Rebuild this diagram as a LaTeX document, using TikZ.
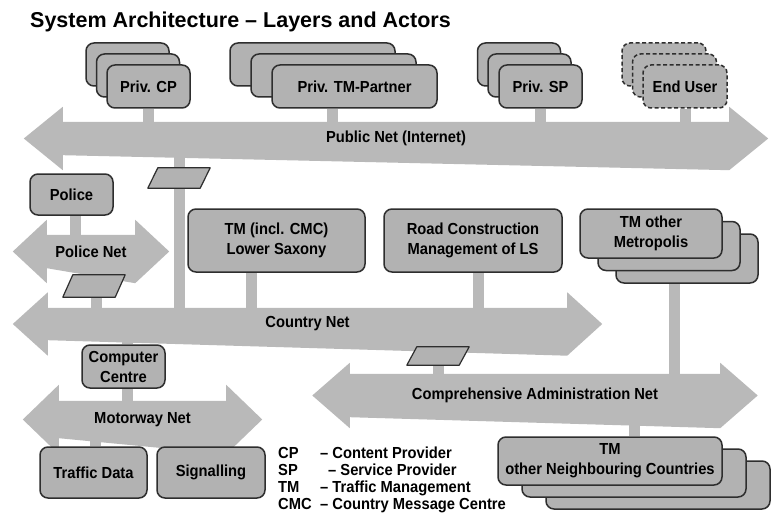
\documentclass[tikz,border=0pt]{standalone}
\usepackage{fontspec}
\setmainfont{Liberation Sans}
\newfontfamily\narrowsans{Liberation Sans}[FakeStretch=0.92]
\usetikzlibrary{calc,backgrounds}

\definecolor{boxgray}{HTML}{B2B2B2}
\definecolor{netgray}{HTML}{B9B9B9}
\definecolor{edgegray}{HTML}{2E2E2E}

\pgfdeclarelayer{backdrop}
\pgfsetlayers{backdrop,background,main}

\tikzset{
  lbl/.style={font=\narrowsans\bfseries\fontsize{16}{20}\selectfont, align=center, text=black},
  actor/.style={lbl, draw=edgegray, line width=1.5pt, fill=boxgray, rounded corners=8pt, inner sep=0pt},
  dashedactor/.style={actor, dash pattern=on 4pt off 2.5pt},
  netbody/.style={lbl, inner sep=0pt},
  conn/.style={draw=netgray, line width=11pt},
  gateway/.style={inner sep=0pt, minimum width=52pt, minimum height=20pt},
  gatewayshape/.style={draw=edgegray, line width=1.2pt, fill=boxgray, line join=round},
  legend/.style={lbl, anchor=base west, inner sep=0pt, align=left},
}

% filled double-headed arrow around a net's body node:
% #1 body node, #2 head overhang, #3 head length
\newcommand\netarrow[3]{%
  \begin{pgfonlayer}{background}
    \fill[netgray] (#1.north west) -- (#1.north east) -- ([yshift=#2]#1.north east)
      -- ([xshift=#3]#1.east) -- ([yshift=-#2]#1.south east) -- (#1.south west)
      -- ([yshift=-#2]#1.south west) -- ([xshift=-#3]#1.west)
      -- ([yshift=#2]#1.north west) -- cycle;
  \end{pgfonlayer}}

% slanted gateway symbol drawn over its (invisible) node
\newcommand\gatewaybox[1]{%
  \filldraw[gatewayshape] ([xshift=5pt]#1.north west) -- ([xshift=5pt]#1.north east)
    -- ([xshift=-5pt]#1.south east) -- ([xshift=-5pt]#1.south west) -- cycle;}

\begin{document}
\begin{tikzpicture}[x=1pt,y=-1pt]
\begin{pgfonlayer}{backdrop}
  \fill[white] (0,0) rectangle (771,524);
\end{pgfonlayer}
\useasboundingbox (0,0) rectangle (771,524);

% title
\node[anchor=base west, inner sep=0pt, font=\bfseries\fontsize{21.5}{24}\selectfont] (title)
  at (30,28) {System Architecture – Layers and Actors};

% nets
\node[netbody, minimum width=666pt, minimum height=33pt] (pub) at (396,138.5) {Public Net (Internet)};
\node[netbody, minimum width=88pt, minimum height=33pt] (policenet) at (91,251.5) {Police Net};
\node[netbody, minimum width=519pt, minimum height=32pt] (country) at (307.5,324) {Country Net};
\node[netbody, minimum width=370pt, minimum height=43pt] (comp) at (535,395.5) {Comprehensive Administration Net};
\node[netbody, minimum width=167pt, minimum height=37pt] (motor) at (142.5,419.5) {Motorway Net};
\netarrow{pub}{15pt}{39pt}
\netarrow{policenet}{15pt}{34pt}
\netarrow{country}{15.5pt}{35pt}
\netarrow{comp}{11pt}{37.5pt}
\netarrow{motor}{16pt}{36pt}

% private actors on the public net
\node[actor, minimum width=83pt, minimum height=43pt] (cp3) at (127.5,64.5) {};
\node[actor, minimum width=83pt, minimum height=43pt] (cp2) at (138,75.5) {};
\node[actor, minimum width=83pt, minimum height=43pt] (cp) at (148.5,86.5) {Priv. CP};

\node[actor, minimum width=165pt, minimum height=43pt] (tmp3) at (312.5,64.5) {};
\node[actor, minimum width=165pt, minimum height=43pt] (tmp2) at (333.5,75.5) {};
\node[actor, minimum width=165pt, minimum height=43pt] (tmp) at (354.5,86.5) {Priv. TM-Partner};

\node[actor, minimum width=83pt, minimum height=43pt] (sp3) at (519,64.5) {};
\node[actor, minimum width=83pt, minimum height=43pt] (sp2) at (529.5,75.5) {};
\node[actor, minimum width=83pt, minimum height=43pt] (sp) at (540.5,86.5) {Priv. SP};

\node[dashedactor, minimum width=84pt, minimum height=43pt] (eu3) at (664,64.5) {};
\node[dashedactor, minimum width=84pt, minimum height=43pt] (eu2) at (674.5,75.5) {};
\node[dashedactor, minimum width=84pt, minimum height=43pt] (eu) at (685,86.5) {End User};

% public authorities
\node[actor, minimum width=83pt, minimum height=41pt] (police) at (71.5,194.5) {Police};
\node[actor, minimum width=177pt, minimum height=63pt] (tmls) at (276.5,240.5) {TM (incl. CMC)\\Lower Saxony};
\node[actor, minimum width=178pt, minimum height=63pt] (rc) at (473,240.5) {Road Construction\\Management of LS};

\node[actor, minimum width=142pt, minimum height=49pt] (tmo3) at (687,258.5) {};
\node[actor, minimum width=142pt, minimum height=49pt] (tmo2) at (669,246) {};
\node[actor, minimum width=142pt, minimum height=49pt] (tmo) at (651,233.5) {TM other\\Metropolis};

\node[actor, minimum width=83pt, minimum height=43pt] (cc) at (123.5,366.5) {Computer\\Centre};

\node[actor, minimum width=224pt, minimum height=48pt] (tnc3) at (658,485) {};
\node[actor, minimum width=224pt, minimum height=48pt] (tnc2) at (634,473) {};
\node[actor, minimum width=224pt, minimum height=48pt] (tnc) at (610,461) {TM\\other Neighbouring Countries};

\node[actor, minimum width=107pt, minimum height=51pt] (td) at (93.5,472.5) {Traffic Data};
\node[actor, minimum width=108pt, minimum height=51pt] (sig) at (211,472.5) {Signalling};

% gateways between nets
\node[gateway] (gw1) at (179,178) {};
\node[gateway, minimum height=22pt] (gw2) at (94,286) {};
\node[gateway, minimum height=18pt] (gw3) at (438,356) {};
\gatewaybox{gw1}
\gatewaybox{gw2}
\gatewaybox{gw3}

% links
\begin{pgfonlayer}{background}
  \draw[conn] (cp.south) -- (cp.south |- pub.center);
  \draw[conn] ($(tmp.south west)!0.37!(tmp.south east)$) coordinate (tmpx) -- (tmpx |- pub.center);
  \draw[conn] (sp.south) -- (sp.south |- pub.center);
  \draw[conn] (eu.south) -- (eu.south |- pub.center);
  \draw[conn] (gw1 |- pub.center) -- (gw1 |- country.center);
  \draw[conn] ($(police.south west)!0.55!(police.south east)$) coordinate (polx) -- (polx |- policenet.center);
  \draw[conn] ([xshift=2pt]gw2.center |- policenet.center) -- ([xshift=2pt]gw2.center |- country.center);
  \draw[conn] ($(tmls.south west)!0.36!(tmls.south east)$) coordinate (tmlsx) -- (tmlsx |- country.center);
  \draw[conn] ($(rc.south west)!0.53!(rc.south east)$) coordinate (rcx) -- (rcx |- country.center);
  \draw[conn] ($(tmo3.south west)!0.41!(tmo3.south east)$) coordinate (tmox) -- (tmox |- comp.center);
  \draw[conn] (gw3 |- country.center) -- (gw3 |- comp.center);
  \draw[conn] ($(cc.north west)!0.55!(cc.north east)$) coordinate (ccx) -- (ccx |- country.center);
  \draw[conn] ($(cc.south west)!0.55!(cc.south east)$) coordinate (ccy) -- (ccy |- motor.center);
  \draw[conn] ($(td.north west)!0.52!(td.north east)$) coordinate (tdx) -- (tdx |- motor.center);
  \draw[conn] (sig.north) -- (sig.north |- motor.center);
  \draw[conn] ($(tnc.north west)!0.61!(tnc.north east)$) coordinate (tncx) -- (tncx |- comp.center);
\end{pgfonlayer}

% abbreviations
\node[legend] (kcp) at (278,458) {CP};
\node[legend] (dcp) at (320,458) {– Content Provider};
\node[legend] (ksp) at (278,475) {SP};
\node[legend] (dsp) at (328,475) {– Service Provider};
\node[legend] (ktm) at (278,492) {TM};
\node[legend] (dtm) at (320,492) {– Traffic Management};
\node[legend] (kcmc) at (278,509) {CMC};
\node[legend] (dcmc) at (320,509) {– Country Message Centre};
\end{tikzpicture}
\end{document}
